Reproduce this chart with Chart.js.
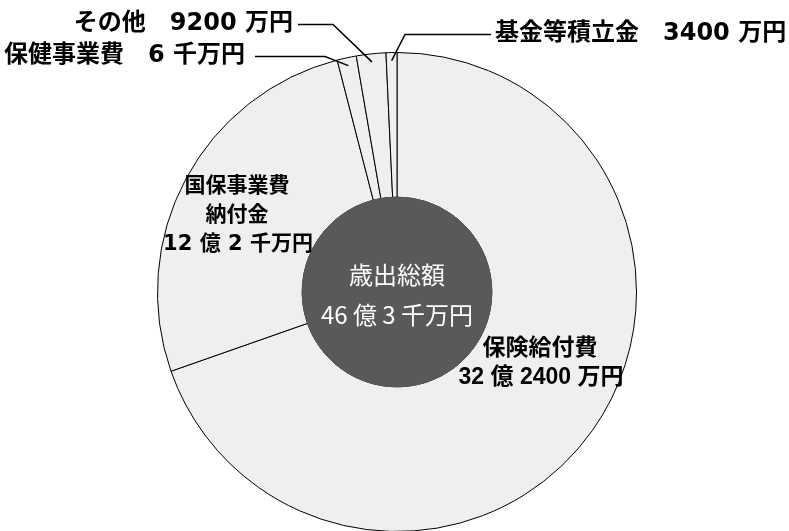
<!DOCTYPE html>
<html>
<head>
<meta charset="utf-8">
<script src="https://cdn.jsdelivr.net/npm/chart.js@4.4.1/dist/chart.umd.min.js"></script>
<style>
html, body { margin: 0; padding: 0; background: #fff; overflow: hidden; }
#wrap { position: absolute; left: 0; top: 0; width: 789px; height: 541px; }
</style>
</head>
<body>
<div id="wrap"><canvas id="pieChart"></canvas></div>
<script>
// 歳出の内訳（単位：万円）
const categories = ['保険給付費', '国保事業費納付金', '保健事業費', 'その他', '基金等積立金'];
const amounts = [322400, 122000, 6000, 9200, 3400];
const sliceTexts = [
    ['保険給付費', '32 億 2400 万円'],
    ['国保事業費', '納付金', '12 億 2 千万円'],
    ['保健事業費　6 千万円'],
    ['その他　9200 万円'],
    ['基金等積立金　3400 万円']
];
const totalTexts = ['歳出総額', '46 億 3 千万円'];

const JP = '"Noto Sans CJK JP", sans-serif';

// ラベルと引き出し線
const sliceLabels = {
    id: 'sliceLabels',
    afterDatasetsDraw(chart) {
        const ctx = chart.ctx;
        const arcs = chart.getDatasetMeta(0).data;
        const hole = chart.getDatasetMeta(1).data[0];
        const cx = hole.x, cy = hole.y;

        ctx.save();
        ctx.textBaseline = 'middle';
        ctx.textAlign = 'center';

        // 中央
        ctx.fillStyle = '#fff';
        ctx.font = '24px ' + JP;
        ctx.fillText(totalTexts[0], cx, cy - 17);
        ctx.fillText(totalTexts[1], cx, cy + 23);

        ctx.fillStyle = '#000';
        // 保険給付費
        ctx.font = 'bold 23px "Liberation Sans", ' + JP;
        ctx.fillText(sliceTexts[0][0], cx + 143, cy + 57);
        ctx.fillText(sliceTexts[0][1], cx + 144, cy + 86);
        // 国保事業費納付金
        ctx.font = 'bold 21px "DejaVu Sans", ' + JP;
        ctx.fillText(sliceTexts[1][0], cx - 160, cy - 105);
        ctx.fillText(sliceTexts[1][1], cx - 160, cy - 76);
        ctx.fillText(sliceTexts[1][2], cx - 159, cy - 47);

        // 上部の小さい項目
        const anchor = (arc) => {
            const p = arc.getProps(['x', 'y', 'startAngle', 'endAngle', 'outerRadius'], true);
            const a = (p.startAngle + p.endAngle) / 2;
            const r = p.outerRadius - 8;
            return { x: p.x + Math.cos(a) * r, y: p.y + Math.sin(a) * r };
        };
        const callouts = [
            { i: 2, tx: 245, ty: 56, align: 'right', x0: 255, x1: 325 },
            { i: 3, tx: 293, ty: 24, align: 'right', x0: 298, x1: 333 },
            { i: 4, tx: 495, ty: 34, align: 'left', x0: 491, x1: 405 }
        ];
        ctx.font = 'bold 24px "DejaVu Sans", ' + JP;
        ctx.strokeStyle = '#000';
        ctx.lineWidth = 1.5;
        callouts.forEach(c => {
            const p = anchor(arcs[c.i]);
            const ly = c.ty + 0.5;
            ctx.beginPath();
            ctx.moveTo(c.x0, ly);
            ctx.lineTo(c.x1, ly);
            ctx.lineTo(p.x, p.y);
            ctx.stroke();
            ctx.textAlign = c.align;
            ctx.fillText(sliceTexts[c.i][0], c.tx, c.ty);
        });
        ctx.restore();
    }
};

new Chart(document.getElementById('pieChart'), {
    type: 'doughnut',
    data: {
        labels: categories,
        datasets: [{
            data: amounts,
            backgroundColor: '#efefef',
            borderColor: '#000',
            borderWidth: 1,
            weight: 145
        }, {
            data: [1],
            backgroundColor: '#5a5859',
            borderColor: '#5a5859',
            borderWidth: 1,
            weight: 95,
            order: -1
        }]
    },
    options: {
        responsive: true,
        maintainAspectRatio: false,
        animation: false,
        cutout: 0,
        layout: { padding: { top: 52, bottom: 9, left: 5, right: 0 } },
        plugins: {
            legend: { display: false },
            tooltip: { enabled: false }
        }
    },
    plugins: [sliceLabels]
});
</script>
</body>
</html>
